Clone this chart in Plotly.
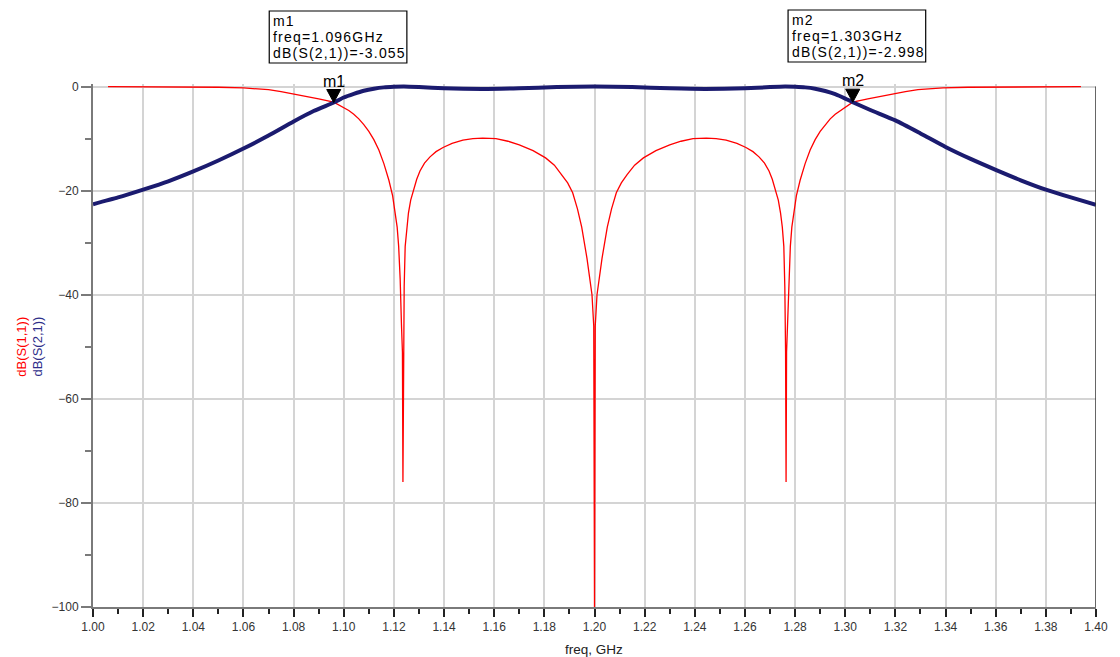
import plotly.graph_objects as go

# ---- S-parameter sweep (freq in GHz, magnitude in dB) ----
freq_s11 = [1.006, 1.030, 1.050, 1.060, 1.065, 1.070, 1.075, 1.080, 1.085, 1.090,
            1.096, 1.100, 1.102, 1.104, 1.106, 1.108, 1.110, 1.112, 1.114, 1.116,
            1.118, 1.1195, 1.1205, 1.1213, 1.1219, 1.1225, 1.1230, 1.1234, 1.1236, 1.1238,
            1.1241, 1.1245, 1.1251, 1.1258, 1.1267, 1.1278, 1.1291, 1.1304, 1.1322, 1.1344,
            1.1368, 1.1396, 1.1432, 1.1475, 1.1515, 1.1554, 1.1607, 1.1655, 1.1700, 1.1755,
            1.1805, 1.1840, 1.1870, 1.1893, 1.1913, 1.1932, 1.1949, 1.1970, 1.1990, 1.1997,
            1.2000,
            1.2003, 1.2010, 1.2030, 1.2051, 1.2068, 1.2087, 1.2107, 1.2130, 1.2160, 1.2195,
            1.2245, 1.2300, 1.2345, 1.2393, 1.2446, 1.2485, 1.2525, 1.2568, 1.2604, 1.2632,
            1.2656, 1.2678, 1.2696, 1.2709, 1.2722, 1.2733, 1.2742, 1.2749, 1.2755, 1.2759,
            1.2762, 1.2764, 1.2766, 1.2770, 1.2775, 1.2781, 1.2787, 1.2795, 1.2805, 1.2820,
            1.2840, 1.2860, 1.2880, 1.2900, 1.2920, 1.2940, 1.2960, 1.2980, 1.3000, 1.3030,
            1.3090, 1.3140, 1.3190, 1.3240, 1.3290, 1.3340, 1.3390, 1.3490, 1.3690, 1.3940]
s11_db = [-0.02, -0.05, -0.12, -0.25, -0.4, -0.6, -0.95, -1.4, -1.85, -2.35,
          -3.0, -4.0, -4.6, -5.3, -6.2, -7.3, -8.6, -10.2, -12.2, -14.8,
          -18.0, -21.0, -24.0, -27.0, -30.7, -37.0, -45.5, -51.0, -76.0, -51.0,
          -38.4, -30.7, -27.0, -24.3, -21.8, -19.8, -17.8, -16.2, -14.7, -13.5,
          -12.5, -11.7, -10.9, -10.3, -10.0, -9.9, -10.0, -10.5, -11.2, -12.3,
          -13.7, -15.1, -16.9, -18.5, -20.4, -23.5, -27.0, -33.0, -40.0, -46.0,
          -100.0,
          -46.0, -40.0, -33.0, -27.0, -23.5, -20.4, -18.5, -16.9, -15.1, -13.7,
          -12.3, -11.2, -10.5, -10.0, -9.9, -10.0, -10.3, -10.9, -11.7, -12.5,
          -13.5, -14.7, -16.2, -17.8, -19.8, -21.8, -24.3, -27.0, -30.7, -38.4,
          -51.0, -76.0, -51.0, -45.5, -37.0, -30.7, -27.0, -24.0, -21.0, -18.0,
          -14.8, -12.2, -10.2, -8.6, -7.3, -6.2, -5.3, -4.6, -4.0, -3.0,
          -2.35, -1.85, -1.4, -0.95, -0.6, -0.4, -0.25, -0.12, -0.05, -0.02]

freq_s21 = [1.000, 1.010, 1.020, 1.030, 1.040, 1.050, 1.060, 1.070, 1.080, 1.088,
            1.096, 1.100, 1.104, 1.108, 1.112, 1.116, 1.120, 1.124, 1.130, 1.140,
            1.155, 1.170, 1.185, 1.200, 1.215, 1.230, 1.244, 1.260, 1.270, 1.276,
            1.280, 1.284, 1.288, 1.292, 1.296, 1.300, 1.303, 1.310, 1.320, 1.330,
            1.340, 1.350, 1.360, 1.370, 1.380, 1.390, 1.400]
s21_db = [-22.6, -21.3, -19.8, -18.2, -16.3, -14.2, -11.9, -9.4, -6.7, -4.7,
          -3.055, -2.1, -1.4, -0.8, -0.4, -0.15, -0.05, 0.0, -0.1, -0.32,
          -0.45, -0.33, -0.1, 0.0, -0.1, -0.33, -0.45, -0.32, -0.1, 0.0,
          -0.05, -0.15, -0.4, -0.85, -1.45, -2.3, -2.998, -4.5, -6.5, -9.0,
          -11.6, -13.9, -16.0, -18.0, -19.8, -21.3, -22.7]

# ---- markers ----
marker_names = ["m1", "m2"]
marker_freq = [1.096, 1.303]
marker_db = [-3.055, -2.998]

x_ticks = [1.00, 1.02, 1.04, 1.06, 1.08, 1.10, 1.12, 1.14, 1.16, 1.18, 1.20,
           1.22, 1.24, 1.26, 1.28, 1.30, 1.32, 1.34, 1.36, 1.38, 1.40]
y_ticks = [0, -20, -40, -60, -80, -100]

W, H = 1120, 657
ML, MR, MT, MB = 93, 14, 84, 50
PW, PH = W - ML - MR, H - MT - MB


def px_x(px):
    return (px - ML) / PW


def px_y(py):
    return (H - MB - py) / PH


RED = "#ff0000"
NAVY = "#1b1b6f"
FONT = "Liberation Sans, Arial, sans-serif"

fig = go.Figure()
fig.add_trace(go.Scatter(x=freq_s11, y=s11_db, mode="lines", name="dB(S(1,1))",
                         line=dict(color=RED, width=1.3), hoverinfo="x+y"))
fig.add_trace(go.Scatter(x=freq_s21, y=s21_db, mode="lines", name="dB(S(2,1))",
                         line=dict(color=NAVY, width=4, shape="spline", smoothing=0.6),
                         hoverinfo="x+y"))

shapes = []
annotations = []

# right frame edge
shapes.append(dict(type="line", xref="x", yref="y", x0=1.40, x1=1.40, y0=-100, y1=0,
                   line=dict(color="#333333", width=1.5), layer="above"))

# marker triangles + labels
for name, f, v in zip(marker_names, marker_freq, marker_db):
    shapes.append(dict(type="path", xref="x", yref="y",
                       xsizemode="pixel", ysizemode="pixel",
                       xanchor=f, yanchor=v,
                       path="M -7,13 L 7,13 L 0,0 Z",
                       fillcolor="black", line=dict(color="black", width=1),
                       layer="above"))
    annotations.append(dict(x=f, y=v, xref="x", yref="y", text=name, showarrow=False,
                            xanchor="center", yanchor="bottom", yshift=11,
                            font=dict(family=FONT, size=16, color="black")))

# marker readout boxes
readouts = [
    (271, 11, ["m1", "freq=1.096GHz", "dB(S(2,1))=-3.055"]),
    (795, 10, ["m2", "freq=1.303GHz", "dB(S(2,1))=-2.998"]),
]
for left, top, lines in readouts:
    shapes.append(dict(type="rect", xref="paper", yref="paper",
                       x0=px_x(left), x1=px_x(left + 139),
                       y0=px_y(top), y1=px_y(top + 52),
                       line=dict(color="black", width=1.2), fillcolor="white",
                       layer="above"))
    for i, txt in enumerate(lines):
        annotations.append(dict(x=px_x(left + 2), y=px_y(top + 10 + 16.2 * i),
                                xref="paper", yref="paper",
                                text='<span style="letter-spacing:1.2px">%s</span>' % txt,
                                showarrow=False, xanchor="left", yanchor="middle",
                                font=dict(family=FONT, size=14, color="black")))

# axis titles
annotations.append(dict(x=px_x(599), y=px_y(649), xref="paper", yref="paper",
                        text="freq, GHz", showarrow=False, xanchor="center", yanchor="middle",
                        font=dict(family=FONT, size=13.5, color="#222222")))
annotations.append(dict(x=px_x(20), y=px_y(347), xref="paper", yref="paper",
                        text="dB(S(1,1))", showarrow=False, textangle=-90,
                        xanchor="center", yanchor="middle",
                        font=dict(family=FONT, size=13, color=RED)))
annotations.append(dict(x=px_x(36), y=px_y(347), xref="paper", yref="paper",
                        text="dB(S(2,1))", showarrow=False, textangle=-90,
                        xanchor="center", yanchor="middle",
                        font=dict(family=FONT, size=13, color="#2e2e8a")))

fig.update_layout(
    width=W, height=H,
    margin=dict(l=ML, r=MR, t=MT, b=MB, pad=0),
    paper_bgcolor="white", plot_bgcolor="white",
    showlegend=False,
    shapes=shapes, annotations=annotations,
    font=dict(family=FONT, color="#333333"),
    xaxis=dict(range=[1.0, 1.4], tickvals=x_ticks,
               ticktext=["%.2f" % t for t in x_ticks],
               showgrid=True, gridcolor="#d4d4d4", gridwidth=1.5,
               showline=True, linecolor="#7a7a7a", linewidth=2,
               ticks="outside", ticklen=8, tickwidth=1.5, tickcolor="#222222",
               tickfont=dict(family=FONT, size=12, color="#333333"),
               minor=dict(dtick=0.01, tick0=1.0, ticks="outside", ticklen=5,
                          tickwidth=1.5, tickcolor="#222222", showgrid=False),
               zeroline=False, fixedrange=True),
    yaxis=dict(range=[-100, 0.5], tickvals=y_ticks,
               showgrid=True, gridcolor="#d4d4d4", gridwidth=1.5,
               showline=True, linecolor="#7a7a7a", linewidth=2,
               ticks="outside", ticklen=10, tickwidth=1.5, tickcolor="#7a7a7a",
               tickfont=dict(family=FONT, size=12, color="#333333"),
               minor=dict(dtick=10, tick0=0, ticks="outside", ticklen=6,
                          tickwidth=1.5, tickcolor="#7a7a7a", showgrid=False),
               zeroline=False, fixedrange=True),
)

fig.write_html("out.html")
